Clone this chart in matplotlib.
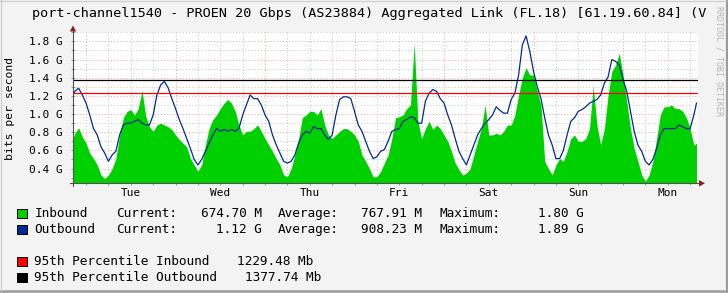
import matplotlib
matplotlib.use("Agg")
import matplotlib.pyplot as plt
from matplotlib.lines import Line2D
from matplotlib.patches import Polygon, Rectangle
import numpy as np

# ---------------- data ----------------
# hours relative to Tuesday 00:00
hours = [-3.5] + list(range(-3, 164)) + [163.7]

inbound = [
    0.73, 0.79, 0.85, 0.75,
    # Tue
    0.68, 0.57, 0.51, 0.44, 0.33, 0.29, 0.33, 0.40, 0.51, 0.77, 0.96, 1.03,
    1.05, 0.99, 1.06, 1.26, 0.98, 0.86, 0.81, 0.88, 0.90, 0.88, 0.86, 0.83,
    # Wed
    0.77, 0.72, 0.68, 0.64, 0.51, 0.44, 0.37, 0.44, 0.66, 0.84, 0.94, 0.99,
    1.06, 1.12, 1.16, 1.12, 1.03, 0.88, 0.77, 0.81, 0.81, 0.84, 0.88, 0.81,
    # Thu
    0.73, 0.66, 0.59, 0.51, 0.44, 0.33, 0.31, 0.40, 0.55, 0.73, 0.96, 0.99,
    1.03, 1.03, 0.99, 1.06, 0.88, 0.77, 0.73, 0.77, 0.81, 0.84, 0.84, 0.81,
    # Fri
    0.77, 0.70, 0.55, 0.48, 0.40, 0.31, 0.31, 0.37, 0.46, 0.55, 0.73, 0.96,
    0.97, 0.99, 1.06, 1.10, 1.78, 0.92, 0.73, 0.84, 0.92, 0.83, 0.88, 0.84,
    # Sat
    0.77, 0.70, 0.59, 0.46, 0.39, 0.33, 0.35, 0.40, 0.55, 0.70, 0.84, 1.10,
    0.77, 0.77, 0.79, 0.77, 0.81, 0.88, 0.88, 0.99, 1.21, 1.40, 1.51, 1.43,
    # Sun
    1.43, 1.25, 1.10, 0.48, 0.40, 0.33, 0.44, 0.51, 0.48, 0.59, 0.73, 0.77,
    0.70, 0.70, 0.73, 0.84, 1.31, 0.88, 0.66, 0.84, 1.21, 1.47, 1.54, 1.67,
    # Mon
    1.43, 1.14, 0.84, 0.62, 0.48, 0.33, 0.26, 0.33, 0.48, 0.73, 0.99, 1.08,
    1.08, 1.10, 1.06, 1.06, 1.03, 0.96, 0.84, 0.66,
    0.68,
]

outbound = [
    1.21, 1.25, 1.285, 1.21,
    # Tue
    1.12, 0.99, 0.84, 0.77, 0.64, 0.57, 0.48, 0.55, 0.59, 0.77, 0.88, 0.90,
    0.90, 0.92, 0.94, 0.90, 0.88, 0.88, 0.99, 1.21, 1.32, 1.36, 1.29, 1.17,
    # Wed
    1.06, 0.94, 0.84, 0.73, 0.62, 0.50, 0.44, 0.50, 0.59, 0.68, 0.77, 0.84,
    0.81, 0.83, 0.81, 0.83, 0.81, 0.84, 0.99, 1.10, 1.21, 1.17, 1.17, 1.10,
    # Thu
    0.99, 0.92, 0.77, 0.66, 0.57, 0.48, 0.46, 0.48, 0.55, 0.68, 0.77, 0.81,
    0.79, 0.86, 0.84, 0.84, 0.77, 0.72, 0.77, 0.99, 1.16, 1.19, 1.19, 1.17,
    # Fri
    1.03, 0.88, 0.81, 0.70, 0.59, 0.51, 0.53, 0.59, 0.61, 0.70, 0.81, 0.83,
    0.84, 0.92, 0.94, 0.97, 0.96, 0.90, 0.90, 1.14, 1.23, 1.27, 1.25, 1.17,
    # Sat
    1.12, 0.99, 0.88, 0.73, 0.59, 0.51, 0.44, 0.55, 0.66, 0.77, 0.84, 0.90,
    0.94, 0.99, 1.08, 1.04, 1.01, 1.01, 1.16, 1.23, 1.43, 1.76, 1.86, 1.69,
    # Sun
    1.47, 1.30, 1.17, 0.96, 0.77, 0.66, 0.51, 0.51, 0.60, 0.77, 0.92, 0.96,
    1.03, 1.05, 1.08, 1.12, 1.14, 1.16, 1.21, 1.34, 1.41, 1.60, 1.58, 1.54,
    # Mon
    1.38, 1.25, 1.03, 0.81, 0.66, 0.59, 0.48, 0.44, 0.50, 0.62, 0.77, 0.84,
    0.84, 0.84, 0.84, 0.88, 0.86, 0.84, 0.84, 0.99,
    1.12,
]

p95_in = 1.22948   # G
p95_out = 1.37774  # G

days = ["Tue", "Wed", "Thu", "Fri", "Sat", "Sun", "Mon"]
ytick_vals = [0.4, 0.6, 0.8, 1.0, 1.2, 1.4, 1.6, 1.8]
ytick_labels = ["0.4 G", "0.6 G", "0.8 G", "1.0 G", "1.2 G", "1.4 G", "1.6 G", "1.8 G"]

title = "port-channel1540 - PROEN 20 Gbps (AS23884) Aggregated Link (FL.18) [61.19.60.84] (V"

series_legend = [
    ("#00CF00", "Inbound", "674.70 M", "767.91 M", "1.80 G"),
    ("#002A97", "Outbound", "1.12 G", "908.23 M", "1.89 G"),
]
pct_legend = [
    ("#FF0000", "95th Percentile Inbound", "1229.48 Mb"),
    ("#000000", "95th Percentile Outbound", "1377.74 Mb"),
]

# ---------------- figure ----------------
W, H = 728, 293
BG = "#F3F3F3"
MONO = "DejaVu Sans Mono"

fig = plt.figure(figsize=(W / 100, H / 100), dpi=100, facecolor=BG)


def fx(x):
    return x / W


def fy(y):
    return 1 - y / H


L, R, T, B = 73.0, 697.6, 32.3, 183.3
ax = fig.add_axes([fx(L), fy(B), fx(R) - fx(L), (B - T) / H])
ax.set_facecolor("white")
ax.set_xlim(-3.5, 164.0)
ax.set_ylim(0.238, 1.9)

# grid
ax.set_axisbelow(True)
ax.set_xticks(np.arange(0, 165, 24))
ax.set_xticks(np.arange(0, 165, 6), minor=True)
ax.set_yticks(ytick_vals)
ax.set_yticks(np.arange(0.3, 1.95, 0.1), minor=True)
ax.set_yticklabels(ytick_labels, fontfamily=MONO, fontsize=8)
ax.set_xticklabels([])
ax.grid(which="major", color="#F2A6A6", linestyle=(0, (1, 2)), linewidth=0.75)
ax.grid(which="minor", color="#C9C9C9", linestyle=(0, (1, 2)), linewidth=0.75)
ax.tick_params(which="both", direction="inout", length=3, width=0.7,
               color="#9A9A9A")
ax.tick_params(axis="y", which="major", pad=6)
for s in ax.spines.values():
    s.set_visible(False)

# data
ax.fill_between(hours, 0, inbound, color="#00CF00", linewidth=0, zorder=2)
ax.plot(hours, outbound, color="#002A97", linewidth=0.9, zorder=3)
ax.axhline(p95_in, color="#FF0000", linewidth=0.9, zorder=4)
ax.axhline(p95_out, color="#000000", linewidth=0.9, zorder=4)

# day labels at noon
for i, d in enumerate(days):
    ax.text(12 + 24 * i, (B - 193.5) / (B - T), d, transform=ax.get_xaxis_transform(),
            ha="center", va="center", fontfamily=MONO, fontsize=8)

# axis lines with arrows
fig.add_artist(Line2D([fx(L), fx(L)], [fy(B + 3), fy(30)], color="#505050", lw=0.8))
fig.add_artist(Line2D([fx(70), fx(700)], [fy(B), fy(B)], color="#505050", lw=0.8))
fig.add_artist(Polygon([(fx(L), fy(25.5)), (fx(L - 3.2), fy(31.5)), (fx(L + 3.2), fy(31.5))],
                       closed=True, color="#8B1A1A", lw=0))
fig.add_artist(Polygon([(fx(705), fy(B)), (fx(699), fy(B - 3.2)), (fx(699), fy(B + 3.2))],
                       closed=True, color="#8B1A1A", lw=0))

# titles / labels
fig.text(fx(32), fy(14), title, fontfamily=MONO, fontsize=9.7, ha="left", va="center")
fig.text(fx(10.5), fy(108), "bits per second", rotation=90, fontfamily=MONO,
         fontsize=8.2, ha="center", va="center")
fig.text(fx(718.5), fy(6), "RRDTOOL / TOBI OETIKER", rotation=270, fontfamily=MONO,
         fontsize=6, ha="center", va="top", color="#B5B5B5")

# legend
LFS = 9.2


def lg_text(x, y, s, ha="left"):
    fig.text(fx(x), fy(y), s, fontfamily=MONO, fontsize=LFS, ha=ha, va="center")


def lg_box(y, col):
    fig.add_artist(Rectangle((fx(17.3), fy(y + 4.6)), fx(10), 9.2 / H, facecolor=col,
                             edgecolor="black", linewidth=0.7))


for (col, name, cur, avg, mx), yy in zip(series_legend, [213.5, 229.3]):
    lg_box(yy, col)
    lg_text(34.3, yy, name)
    lg_text(116, yy, "Current:")
    lg_text(262, yy, cur, ha="right")
    lg_text(278, yy, "Average:")
    lg_text(422, yy, avg, ha="right")
    lg_text(440, yy, "Maximum:")
    lg_text(584, yy, mx, ha="right")

for (col, name, val), yy, vx in zip(pct_legend, [261.5, 277.5], [237, 245]):
    lg_box(yy, col)
    lg_text(34.3, yy, name)
    lg_text(vx, yy, val)

# frame
fig.add_artist(Line2D([fx(726.5), fx(726.5)], [fy(0), fy(293)], color="#9C9C9C", lw=1.6))
fig.add_artist(Line2D([fx(0), fx(728)], [fy(291.3), fy(291.3)], color="#9C9C9C", lw=1.8))
fig.add_artist(Line2D([fx(1), fx(1)], [fy(0), fy(290)], color="#CFCFCF", lw=0.9))
fig.add_artist(Line2D([fx(0), fx(726)], [fy(1), fy(1)], color="#CFCFCF", lw=0.9))

fig.savefig("out.png", dpi=100, facecolor=BG)
